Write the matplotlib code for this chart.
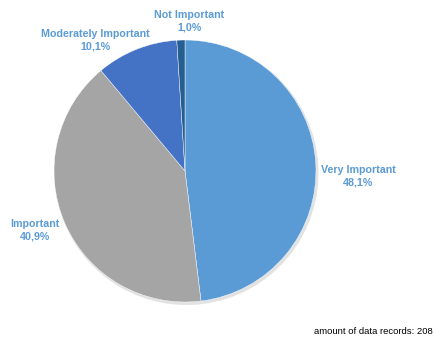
import matplotlib
matplotlib.use("Agg")
import matplotlib.pyplot as plt

categories = ["Very Important", "Important", "Moderately Important", "Not Important"]
values = [48.1, 40.9, 10.1, 1.0]
colors = ["#5B9BD5", "#A5A5A5", "#4472C4", "#255E91"]
label_pos = [(358, 176), (35, 230), (95, 40), (189, 21)]
footer = "amount of data records: 208"

W, H = 434, 339
fig = plt.figure(figsize=(W / 100, H / 100), dpi=100)
ax = fig.add_axes([0, 0, 1, 1])
ax.set_xlim(0, W)
ax.set_ylim(0, H)
ax.axis("off")

cx, cy, r = 185, H - 171, 131
# subtle shadow
ax.pie(values, colors=["#e2e2e2"] * 4, startangle=90, counterclock=False,
       center=(cx + 1.5, cy - 2), radius=r + 1, frame=True,
       wedgeprops=dict(linewidth=0))
ax.pie(values, colors=colors, startangle=90, counterclock=False,
       center=(cx, cy), radius=r, frame=True,
       wedgeprops=dict(linewidth=0.3, edgecolor="white"))
ax.set_xlim(0, W)
ax.set_ylim(0, H)
ax.set_aspect("equal")
ax.axis("off")

for name, v, (x, y) in zip(categories, values, label_pos):
    ax.text(x, H - y, f"{name}\n{v:.1f}%".replace(".", ","), ha="center", va="center",
            fontsize=7.7, fontweight="bold", color="#5B9BD5",
            family="Liberation Sans", linespacing=1.35)

ax.text(433, H - 331, footer, ha="right", va="center", fontsize=6.8,
        family="Liberation Sans", color="#000000")

fig.savefig("out.png", dpi=100)
